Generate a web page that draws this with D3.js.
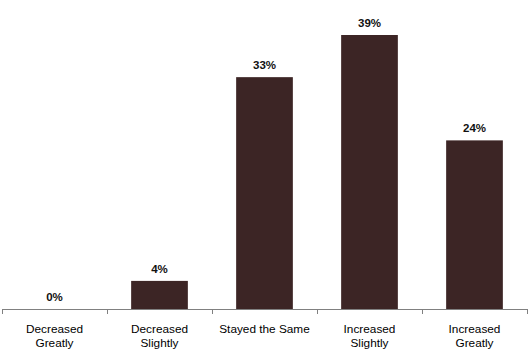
<!DOCTYPE html>
<html>
<head>
<meta charset="utf-8">
<script src="https://cdn.jsdelivr.net/npm/d3@7"></script>
<style>
  body { margin: 0; background: #fff; }
  text { font-family: "Liberation Sans", Arial, sans-serif; }
</style>
</head>
<body>
<svg id="chart"></svg>
<script>
var categories = [["Decreased", "Greatly"], ["Decreased", "Slightly"], ["Stayed the Same"], ["Increased", "Slightly"], ["Increased", "Greatly"]]
var values = [0, 4, 33, 39, 24]

var width = 530, height = 353
var margins = {left: 2, right: 3, top: 0, bottom: 44}
var baseY = 309

var svg = d3.select("svg#chart")
    .attr("width", width)
    .attr("height", height)

var xScale = d3.scaleBand()
    .domain(d3.range(categories.length))
    .range([margins.left, width - margins.right])
    .paddingInner(0.46)
    .paddingOuter(0.23)

var yScale = d3.scaleLinear()
    .domain([0, 39])
    .range([baseY, 35])

// bars
svg.selectAll("rect.bar")
    .data(values)
    .enter()
    .append("rect")
    .attr("class", "bar")
    .attr("x", function(d, i) { return xScale(i) })
    .attr("width", xScale.bandwidth())
    .attr("y", function(d) { return yScale(d) })
    .attr("height", function(d) { return baseY - yScale(d) })
    .attr("fill", "#3c2525")

// value labels
svg.selectAll("text.val")
    .data(values)
    .enter()
    .append("text")
    .attr("class", "val")
    .attr("x", function(d, i) { return xScale(i) + xScale.bandwidth() / 2 })
    .attr("y", function(d) { return yScale(d) - 8 })
    .attr("text-anchor", "middle")
    .attr("font-size", "11.5px")
    .attr("font-weight", "bold")
    .attr("fill", "#111")
    .text(function(d) { return d + "%" })

// axis line and ticks between categories
var step = (width - margins.left - margins.right) / categories.length
var axis = svg.append("g")
axis.append("line")
    .attr("x1", margins.left).attr("x2", width - margins.right)
    .attr("y1", baseY + 0.5).attr("y2", baseY + 0.5)
    .attr("stroke", "#808080")
axis.selectAll("line.tick")
    .data(d3.range(categories.length + 1))
    .enter()
    .append("line")
    .attr("class", "tick")
    .attr("x1", function(i) { return Math.round(margins.left + i * step) + 0.5 })
    .attr("x2", function(i) { return Math.round(margins.left + i * step) + 0.5 })
    .attr("y1", baseY)
    .attr("y2", baseY + 5)
    .attr("stroke", "#808080")

// category labels
var cat = svg.selectAll("text.cat")
    .data(categories)
    .enter()
    .append("text")
    .attr("class", "cat")
    .attr("x", function(d, i) { return xScale(i) + xScale.bandwidth() / 2 })
    .attr("y", 333)
    .attr("text-anchor", "middle")
    .attr("font-size", "11.8px")
    .attr("fill", "#000")

cat.selectAll("tspan")
    .data(function(d) { return d })
    .enter()
    .append("tspan")
    .attr("x", function() { return d3.select(this.parentNode).attr("x") })
    .attr("dy", function(d, j) { return j === 0 ? 0 : 13.5 })
    .text(function(d) { return d })
</script>
</body>
</html>
